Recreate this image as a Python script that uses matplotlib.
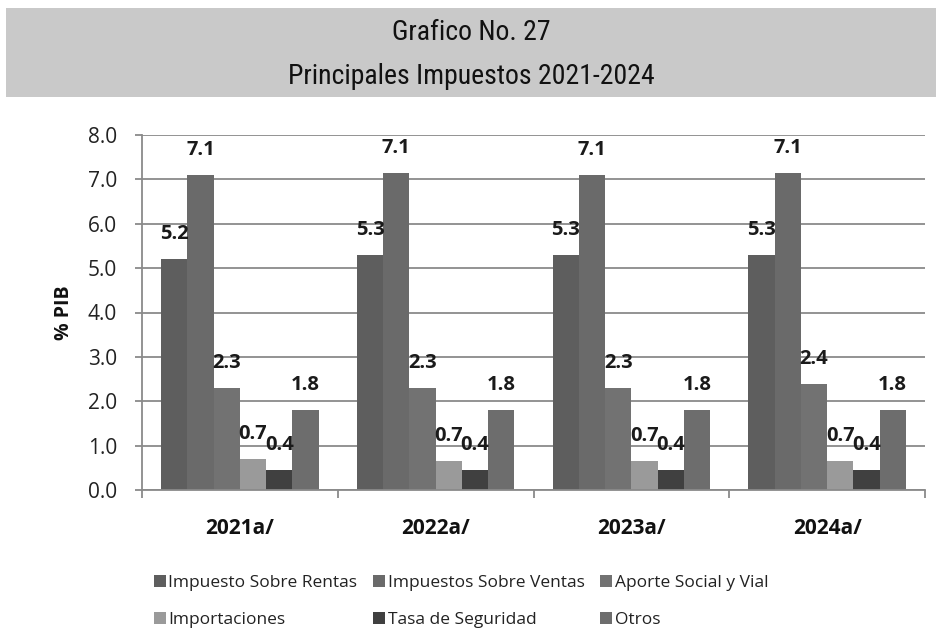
import matplotlib
matplotlib.use("Agg")
import matplotlib.pyplot as plt
from matplotlib.patches import Patch, Rectangle
import numpy as np

plt.rcParams['font.family'] = ['Open Sans', 'DejaVu Sans']

categories = ["2021a/", "2022a/", "2023a/", "2024a/"]
series_names = ["Impuesto Sobre Rentas", "Impuestos Sobre Ventas", "Aporte Social y Vial",
                "Importaciones", "Tasa de Seguridad", "Otros"]
rentas = [5.2, 5.3, 5.3, 5.3]
ventas = [7.1, 7.14, 7.1, 7.14]
aporte = [2.3, 2.3, 2.3, 2.38]
importaciones = [0.7, 0.66, 0.66, 0.66]
tasa = [0.44, 0.44, 0.44, 0.44]
otros = [1.8, 1.8, 1.8, 1.8]
series_values = [rentas, ventas, aporte, importaciones, tasa, otros]
colors = ["#5e5e5e", "#6a6a6a", "#727272", "#9a9a9a", "#404040", "#6d6d6d"]
yticks = [0, 1, 2, 3, 4, 5, 6, 7, 8]

fig = plt.figure(figsize=(9.42, 6.33), dpi=100)

# header band
fig.patches.append(Rectangle((6/942, 1-97/633), 930/942, 89/633, transform=fig.transFigure,
                             facecolor="#c9c9c9", edgecolor="none", zorder=0))
title_font = ['Liberation Sans Narrow', 'Roboto Condensed', 'Open Sans', 'DejaVu Sans']
fig.text(0.5, 1-32/633, "Grafico No. 27", ha="center", va="center", fontsize=20,
         family=title_font, color="#111111")
fig.text(0.5, 1-76/633, "Principales Impuestos 2021-2024", ha="center", va="center", fontsize=20,
         family=title_font, color="#111111")

ax = fig.add_axes([142/942, 1-490/633, 783/942, 355/633])
x = np.arange(len(categories))
w = 0.134
for j, (name, vals, c) in enumerate(zip(series_names, series_values, colors)):
    pos = x + (j - 2.5) * w
    ax.bar(pos, vals, width=w, color=c, label=name, zorder=2, linewidth=0)
    for xp, v in zip(pos, vals):
        ax.annotate(f"{v:.1f}", (xp, v), xytext=(0, 18), textcoords="offset points",
                    ha="center", va="center", fontsize=14.5, fontweight="bold", color="#1a1a1a")

ax.set_xlim(-0.5, len(categories) - 0.5)
ax.set_ylim(0, 8)
ax.set_yticks(yticks)
ax.set_yticklabels([f"{t:.1f}" for t in yticks], fontsize=15, color="#222222")
ax.yaxis.grid(True, color="#8a8a8a", linewidth=1.3, zorder=0)
ax.set_axisbelow(True)
ax.set_xticks(x)
ax.set_xticklabels(categories, fontsize=15, fontweight="bold", color="#111111")
ax.tick_params(axis="x", which="major", length=0, pad=20)
ax.set_xticks(np.arange(-0.5, len(categories)), minor=True)
ax.tick_params(axis="x", which="minor", length=6, color="#8a8a8a", width=1.3)
ax.tick_params(axis="y", length=5, color="#8a8a8a", width=1.3, pad=13)
for s in ["top", "right"]:
    ax.spines[s].set_visible(False)
for s in ["left", "bottom"]:
    ax.spines[s].set_color("#8a8a8a")
    ax.spines[s].set_linewidth(1.3)
ax.set_ylabel("% PIB", fontsize=14, fontweight="bold", color="#111111", labelpad=10)

order = [0, 3, 1, 4, 2, 5]
handles = [Patch(facecolor=colors[i], edgecolor="none") for i in order]
labels = [series_names[i] for i in order]
fig.legend(handles, labels, ncol=3, loc="upper left", bbox_to_anchor=(138/942, 1-559/633),
           frameon=False, fontsize=12.5, handlelength=0.7, handleheight=0.7, handletextpad=0.15,
           columnspacing=0.9, labelspacing=1.2, labelcolor="#222222")

fig.savefig("out.png", dpi=100, facecolor="white")
